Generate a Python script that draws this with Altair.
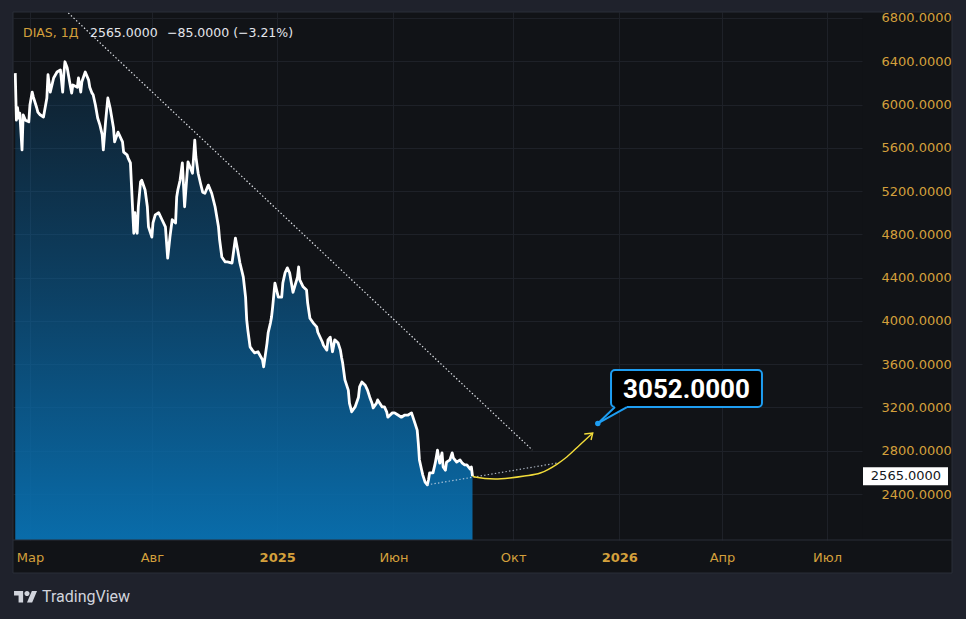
import json

import altair as alt
import pandas as pd

# ---- quotes: trading-session number and daily close ----
TICKER = "DIAS"
INTERVAL = "1Д"

SESSIONS = [
    0, 1, 2, 3, 4, 6, 7, 9, 12, 13, 15, 16, 19, 20, 22, 25, 28, 29, 31, 34,
    37, 40, 42, 43, 44, 46, 49, 50, 51, 55, 56, 58, 59, 62, 65, 66, 68, 69, 71, 73,
    75, 77, 78, 80, 82, 84, 87, 88, 91, 95, 96, 99, 100, 102, 104, 105, 106, 107, 108, 109,
    111, 112, 115, 117, 118, 121, 122, 124, 127, 130, 133, 135, 137, 139, 142, 143, 144, 146, 148, 150,
    153, 157, 159, 160, 162, 164, 166, 168, 171, 174, 177, 180, 181, 183, 186, 188, 192, 195, 197, 199,
    201, 202, 204, 205, 206, 208, 210, 212, 215, 219, 220, 223, 224, 226, 227, 228, 230, 233, 236, 237,
    239, 241, 243, 246, 250, 251, 252, 255, 258, 259, 261, 264, 267, 268, 272, 273, 276, 277, 279, 281,
    283, 286, 288, 289, 290, 292, 295, 296, 298, 301, 304, 305, 307, 310, 312, 314, 316, 317, 320, 321,
    325, 327, 329, 330, 334, 336, 339, 342, 345, 348, 351, 354, 356, 357, 358, 360, 361, 363, 365, 366,
    367, 370, 372, 374, 375, 376, 378, 379, 381, 382, 385, 387, 388, 391, 394, 396, 398, 400, 403, 404,
    405,
]
CLOSES = [
    6290, 5855, 5970, 5875, 5920, 5580, 5905, 5855, 5840, 5995, 6115, 6070, 5970, 5930, 5905, 5885, 6060, 6275, 6115, 6245,
    6300, 6320, 6115, 6275, 6395, 6340, 6160, 6105, 6180, 6160, 6245, 6115, 6210, 6300, 6225, 6160, 6105, 6090, 5995, 5875,
    5810, 5720, 5580, 5840, 6060, 5970, 5785, 5655, 5745, 5655, 5560, 5535, 5505, 5460, 5025, 4810, 5000, 4840, 4810, 5055,
    5285, 5300, 5210, 5055, 4870, 4775, 4905, 4980, 5000, 4935, 4870, 4580, 4775, 4935, 4905, 5145, 5210, 5300, 5460, 5055,
    5470, 5365, 5670, 5515, 5365, 5275, 5190, 5180, 5255, 5180, 5055, 4870, 4750, 4590, 4545, 4545, 4535, 4765, 4655, 4535,
    4450, 4405, 4220, 4010, 3915, 3760, 3730, 3705, 3715, 3640, 3575, 3795, 3890, 3980, 4035, 4130, 4350, 4220, 4220, 4350,
    4445, 4490, 4445, 4265, 4405, 4500, 4380, 4315, 4285, 4165, 4025, 3980, 3945, 3895, 3805, 3775, 3730, 3825, 3850, 3715,
    3825, 3795, 3730, 3665, 3610, 3455, 3360, 3240, 3160, 3205, 3295, 3390, 3435, 3405, 3360, 3295, 3240, 3195, 3240, 3270,
    3205, 3205, 3160, 3110, 3150, 3150, 3130, 3110, 3130, 3130, 3150, 3055, 2990, 2870, 2715, 2620, 2575, 2510, 2485, 2530,
    2595, 2595, 2685, 2805, 2735, 2685, 2780, 2650, 2620, 2695, 2715, 2780, 2735, 2695, 2715, 2685, 2670, 2670, 2630, 2650,
    2565,
]
assert len(SESSIONS) == len(CLOSES)

LAST_PRICE = 2565.0
PREV_CLOSE = 2650.0

# ---- time axis (session numbers where months start) ----
MONTH_SESSIONS = [13, 121, 232, 335, 441, 535, 626, 719]
MONTH_LABELS = ["Мар", "Авг", "2025", "Июн", "Окт", "2026", "Апр", "Июл"]
PRICE_TICKS = [2400, 2800, 3200, 3600, 4000, 4400, 4800, 5200, 5600, 6000, 6400, 6800]

SESSION_RANGE = [-2, 750]
PRICE_RANGE = [1975, 6855]

# ---- drawings ----
TREND_SESSIONS = [47, 458]
TREND_PRICES = [6846, 2807]
SUPPORT_SESSIONS = [365, 480]
SUPPORT_PRICES = [2485, 2686]
PATH_SESSIONS = [405, 407, 425, 438, 451, 465, 480, 488.5, 500, 511.5]
PATH_PRICES = [2565, 2557, 2539, 2548, 2566, 2594, 2677, 2742, 2853, 2964]
ARROW_SESSIONS = [504, 511.5, 510]
ARROW_PRICES = [2955, 2964, 2899]

TARGET_SESSION = 516
TARGET_PRICE = 3052.0
BOX_SESSIONS = [527.7, 661.4]
BOX_PRICES = [3204, 3546]
TAIL_SESSIONS = [516, 531.2, 541.8]
TAIL_UPPER = [3052, 3215, 3215]
TAIL_LOWER = [3052, 3141.5, 3204]
TAIL_EDGE_ENDS = [531.2, 541.8]

# ---- styles ----
GOLD = "#d4a03c"
PANEL = "#111317"
FRAME = "#1f222c"
BORDER = "#2a2e39"
GRID = "#1e2128"
TEXT = "#e4e6ec"
BLUE = "#1e9df1"
YELLOW = "#f2dc3a"
W, H = 849, 528

series = pd.DataFrame({"session": SESSIONS, "price": CLOSES})

year_sessions = [s for s, l in zip(MONTH_SESSIONS, MONTH_LABELS) if l.isdigit()]
label_expr = (
    f"{json.dumps(MONTH_LABELS, ensure_ascii=False)}"
    f"[indexof({json.dumps(MONTH_SESSIONS)}, datum.value)]"
)

x_axis = alt.Axis(
    values=MONTH_SESSIONS,
    labelExpr=label_expr,
    title=None,
    grid=True,
    gridColor=GRID,
    domain=False,
    ticks=False,
    labelColor=GOLD,
    labelFont="DejaVu Sans",
    labelFontSize=13,
    labelPadding=11,
    labelOverlap=False,
    labelFlush=False,
    labelFontWeight={
        "condition": {"test": f"indexof({json.dumps(year_sessions)}, datum.value) >= 0", "value": "bold"},
        "value": "normal",
    },
)
y_axis = alt.Axis(
    orient="right",
    values=PRICE_TICKS,
    format=".4f",
    title=None,
    grid=True,
    gridColor=GRID,
    domain=False,
    ticks=False,
    labelColor=GOLD,
    labelFont="DejaVu Sans",
    labelFontSize=13,
    labelPadding=19,
    labelOverlap=False,
)

X = alt.X("session:Q", scale=alt.Scale(domain=SESSION_RANGE, nice=False, zero=False), axis=x_axis)
Y = alt.Y("price:Q", scale=alt.Scale(domain=PRICE_RANGE, nice=False, zero=False), axis=y_axis)

one = pd.DataFrame({"k": [0]})

fill = alt.Gradient(
    gradient="linear",
    stops=[
        alt.GradientStop(color="rgba(8,104,170,0.14)", offset=0),
        alt.GradientStop(color="rgba(8,108,174,0.52)", offset=0.5),
        alt.GradientStop(color="rgba(9,112,176,0.96)", offset=1),
    ],
    x1=0, x2=0, y1=0, y2=1,
)

area = alt.Chart(series).mark_area(color=fill).encode(
    x=X, y=Y, y2=alt.datum(PRICE_RANGE[0])
)
line = alt.Chart(series).mark_line(color="#ffffff", strokeWidth=2.8, strokeJoin="round").encode(x=X, y=Y)

trend = alt.Chart(pd.DataFrame({"session": TREND_SESSIONS, "price": TREND_PRICES})).mark_line(
    color="#e2e5eb", strokeWidth=1.2, strokeDash=[1.4, 2.2]
).encode(x=X, y=Y)

support = alt.Chart(pd.DataFrame({"session": SUPPORT_SESSIONS, "price": SUPPORT_PRICES})).mark_line(
    color="#cfdbea", strokeWidth=1.2, strokeDash=[1.4, 2.2], opacity=0.8
).encode(x=X, y=Y)

path = alt.Chart(pd.DataFrame({"session": PATH_SESSIONS, "price": PATH_PRICES})).mark_line(
    color=YELLOW, strokeWidth=1.4, interpolate="monotone"
).encode(x=X, y=Y)

arrow = alt.Chart(
    pd.DataFrame({"session": ARROW_SESSIONS, "price": ARROW_PRICES, "step": [0, 1, 2]})
).mark_line(color=YELLOW, strokeWidth=1.4).encode(x=X, y=Y, order="step:Q")

box = alt.Chart(one).mark_rect(
    fill="#000000", stroke=BLUE, strokeWidth=2, cornerRadius=4
).encode(
    x=alt.X(datum=BOX_SESSIONS[0], scale=alt.Scale(domain=SESSION_RANGE, nice=False, zero=False), axis=x_axis),
    x2=alt.datum(BOX_SESSIONS[1]),
    y=alt.Y(datum=BOX_PRICES[0], scale=alt.Scale(domain=PRICE_RANGE, nice=False, zero=False), axis=y_axis),
    y2=alt.datum(BOX_PRICES[1]),
)

tail = alt.Chart(
    pd.DataFrame({"session": TAIL_SESSIONS, "price": TAIL_UPPER, "price2": TAIL_LOWER})
).mark_area(color="#000000").encode(x=X, y=Y, y2="price2:Q")

tail_edges = alt.Chart(
    pd.DataFrame({
        "session": [TARGET_SESSION, TAIL_EDGE_ENDS[0], TARGET_SESSION, TAIL_EDGE_ENDS[1]],
        "price": [TARGET_PRICE, BOX_PRICES[0], TARGET_PRICE, BOX_PRICES[0]],
        "edge": ["a", "a", "b", "b"],
    })
).mark_line(color=BLUE, strokeWidth=2).encode(x=X, y=Y, detail="edge:N")

target = alt.Chart(pd.DataFrame({"session": [TARGET_SESSION], "price": [TARGET_PRICE]}))
target_dot = target.mark_point(filled=True, color=BLUE, size=30, opacity=1).encode(x=X, y=Y)

callout_text = alt.Chart(
    pd.DataFrame({
        "session": [(BOX_SESSIONS[0] + BOX_SESSIONS[1]) / 2],
        "price": [(BOX_PRICES[0] + BOX_PRICES[1]) / 2],
        "label": [f"{TARGET_PRICE:.4f}"],
    })
).mark_text(
    font="Roboto", fontSize=26, fontWeight="bold", color="#ffffff", baseline="middle", align="center", dy=1
).encode(x=X, y=Y, text="label:N")

# last-price tag on the price scale
price_tag = alt.Chart(one).mark_rect(fill="#ffffff", height=18, clip=False).encode(
    x=alt.value(W + 1), x2=alt.value(W + 86), y=alt.datum(LAST_PRICE)
)
price_tag_text = alt.Chart(one).mark_text(
    font="DejaVu Sans", fontSize=13, color="#131722", align="center", baseline="middle"
).encode(x=alt.value(W + 44), y=alt.datum(LAST_PRICE), text=alt.value(f"{LAST_PRICE:.4f}"))

# header legend
change = LAST_PRICE - PREV_CLOSE
change_pct = change / PREV_CLOSE * 100
change_text = f"{change:.4f} ({change_pct:.2f}%)".replace("-", "−")
legend_items = pd.DataFrame({
    "text": [f"{TICKER}, {INTERVAL}", f"{LAST_PRICE:.4f}", change_text],
    "px": [10, 77, 154],
    "color": [GOLD, TEXT, TEXT],
})
legend = alt.Chart(legend_items).mark_text(
    font="DejaVu Sans", fontSize=12.5, align="left", baseline="middle"
).encode(
    x=alt.X("px:Q", scale=None),
    y=alt.value(21),
    text="text:N",
    color=alt.Color("color:N", scale=None),
)

# outer frame around the chart panel
frame_rows = pd.DataFrame({
    "x0": [-13, -13, -13, W + 90],
    "x1": [W + 104, W + 104, 0, W + 104],
    "y0": [-12, H + 33, 0, 0],
    "y1": [0, H + 79, H + 33, H + 33],
})
frame = alt.Chart(frame_rows).mark_rect(color=FRAME, clip=False).encode(
    x=alt.X("x0:Q", scale=None), x2="x1:Q", y=alt.Y("y0:Q", scale=None), y2="y1:Q"
)
border = alt.Chart(one).mark_rect(fill="transparent", stroke=BORDER, strokeWidth=1, clip=False).encode(
    x=alt.value(0), x2=alt.value(W + 90), y=alt.value(0), y2=alt.value(H + 33)
)
axis_line = alt.Chart(one).mark_rule(color=BORDER, strokeWidth=1, clip=False).encode(
    x=alt.value(0), x2=alt.value(W + 90), y=alt.value(H)
)

# brand mark: bar-and-stem, dot and slanted stroke, in a [-1, 1] box
LOGO_PATH = (
    "M-0.222,0.222H-0.611V-0.389H-1V-0.778H-0.222Z "
    "M0.556,0.222H0.111L0.528,-0.778H0.972Z "
    "M-0.111,-0.556A0.222,0.222,0,1,0,0.333,-0.556A0.222,0.222,0,1,0,-0.111,-0.556Z"
)
logo = alt.Chart(one).mark_point(
    shape=LOGO_PATH, filled=True, color="#d1d4dc", size=544, opacity=1, strokeWidth=0, clip=False
).encode(x=alt.value(12.7), y=alt.value(H + 60))
brand = alt.Chart(one).mark_text(
    font="Roboto", fontSize=16, color="#d1d4dc", align="left", baseline="middle"
).encode(x=alt.value(29), y=alt.value(H + 57), text=alt.value("TradingView"))

chart = alt.layer(
    area, line, trend, support, path, arrow,
    box, tail, tail_edges, target_dot, callout_text,
    axis_line, price_tag, price_tag_text, legend,
    frame, border, logo, brand,
).properties(
    width=W,
    height=H,
    autosize=alt.AutoSizeParams(type="none"),
    padding={"left": 13, "top": 12, "right": 104, "bottom": 79},
).configure(
    background=PANEL,
).configure_view(
    fill=PANEL, stroke="transparent"
)

chart.save("out.html", embed_options={"renderer": "svg", "actions": False})
